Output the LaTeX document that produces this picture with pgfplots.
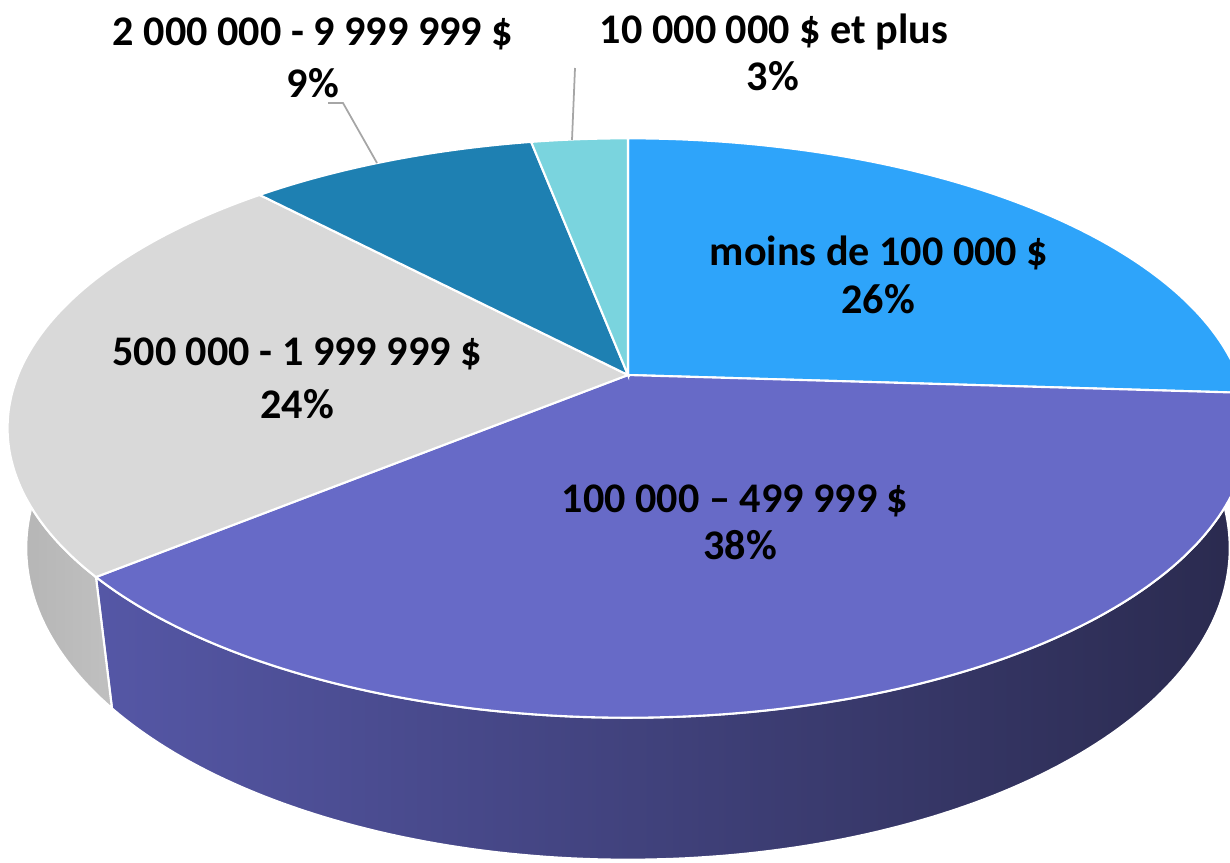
\documentclass[border=0pt]{standalone}
\usepackage{pgfplots}
\pgfplotsset{compat=1.18}
\usepackage{pgfplotstable}
\usepackage{fontspec}
\setmainfont{Carlito}

\definecolor{cA}{RGB}{46,164,250}
\definecolor{cB}{RGB}{103,106,199}
\definecolor{cC}{RGB}{217,217,217}
\definecolor{cD}{RGB}{30,128,178}
\definecolor{cE}{RGB}{122,212,222}
\definecolor{sBL}{RGB}{85,87,166}
\definecolor{sBR}{RGB}{42,42,78}
\definecolor{sCL}{RGB}{180,180,180}
\definecolor{sCR}{RGB}{192,192,192}
\definecolor{lead}{RGB}{166,166,166}

\newcommand\lbl{\fontsize{12}{14}\selectfont\bfseries}

% perspective rim of the pie: angle from 12 o'clock clockwise, drop = depth
\newcommand\arcpts[3]{%
  \pgfmathtruncatemacro\nn{max(2,ceil(abs(#2-#1)))}%
  \foreach \k in {0,...,\nn}{%
    \pgfmathsetmacro\myt{#1+(#2-#1)*(\k/\nn)}%
    \pgfmathsetmacro\myd{1+0.183*cos(\myt)}%
    \pgfmathsetmacro\px{628+(1-0.00026*#3)*610*sin(\myt)/\myd}%
    \pgfmathsetmacro\py{375-(280*cos(\myt)-#3)/\myd}%
    \xdef\acc{\acc -- (axis cs:\px,\py)}%
  }%
}

\pgfplotstableread{
pct
26
38
24
9
3
}\piedata

\begin{document}
\begin{tikzpicture}
\gdef\cum{0}
\foreach \i in {0,...,4}{%
  \pgfplotstablegetelem{\i}{pct}\of\piedata
  \let\myval\pgfplotsretval
  \pgfmathsetmacro\sA{\cum*3.6}%
  \pgfmathsetmacro\eA{(\cum+\myval)*3.6}%
  \xdef\acc{(axis cs:628,375)}%
  \arcpts{\sA}{\eA}{0}%
  \expandafter\xdef\csname top\i\endcsname{\acc -- cycle}%
  \pgfmathsetmacro\visA{max(\sA,90)}%
  \pgfmathsetmacro\visB{min(\eA,270)}%
  \pgfmathtruncatemacro\vis{\visB>\visA}%
  \ifnum\vis=1
    \pgfmathsetmacro\myd{1+0.183*cos(\visA)}%
    \pgfmathsetmacro\px{628+610*sin(\visA)/\myd}%
    \pgfmathsetmacro\py{375-280*cos(\visA)/\myd}%
    \xdef\acc{(axis cs:\px,\py)}%
    \arcpts{\visA}{\visB}{0}%
    \arcpts{\visB}{\visA}{116}%
    \expandafter\xdef\csname side\i\endcsname{\acc -- cycle}%
  \fi
  \pgfmathsetmacro\newcum{\cum+\myval}%
  \xdef\cum{\newcum}%
}
\begin{axis}[
  width=12.3cm, height=8.62cm, scale only axis,
  xmin=0, xmax=1230, ymin=0, ymax=862, y dir=reverse,
  hide axis, clip=true]
\coordinate (bl) at (axis cs:0,862);
\coordinate (tr) at (axis cs:1230,0);
% front sides
\edef\tmp{\noexpand\path[left color=sBL, right color=sBR, draw=white, line width=0.6pt] \csname side1\endcsname;}\tmp
\edef\tmp{\noexpand\path[left color=sCL, right color=sCR, draw=white, line width=0.6pt] \csname side2\endcsname;}\tmp
% top faces
\edef\tmp{\noexpand\fill[cA, draw=white, line width=0.6pt] \csname top0\endcsname;}\tmp
\edef\tmp{\noexpand\fill[cB, draw=white, line width=0.6pt] \csname top1\endcsname;}\tmp
\edef\tmp{\noexpand\fill[cC, draw=white, line width=0.6pt] \csname top2\endcsname;}\tmp
\edef\tmp{\noexpand\fill[cD, draw=white, line width=0.6pt] \csname top3\endcsname;}\tmp
\edef\tmp{\noexpand\fill[cE, draw=white, line width=0.6pt] \csname top4\endcsname;}\tmp
% leader lines
\draw[lead, line width=0.5pt] (axis cs:328,103) -- (axis cs:343,103) -- (axis cs:377,163);
\draw[lead, line width=0.5pt] (axis cs:575,68) -- (axis cs:572,140);
% labels
\node[anchor=base, font=\lbl] at (axis cs:879,265) {moins de 100 000 \$};
\node[anchor=base, font=\lbl] at (axis cs:878,313) {26\%};
\node[anchor=base, font=\lbl] at (axis cs:735,512) {100 000 -- 499 999 \$};
\node[anchor=base, font=\lbl] at (axis cs:740,559) {38\%};
\node[anchor=base, font=\lbl] at (axis cs:297,365) {500 000 - 1 999 999 \$};
\node[anchor=base, font=\lbl] at (axis cs:297,418) {24\%};
\node[anchor=base, font=\lbl] at (axis cs:313,45) {2 000 000 - 9 999 999 \$};
\node[anchor=base, font=\lbl] at (axis cs:313,97) {9\%};
\node[anchor=base, font=\lbl] at (axis cs:774,43) {10 000 000 \$ et plus};
\node[anchor=base, font=\lbl] at (axis cs:773,90) {3\%};
\end{axis}
\pgfresetboundingbox
\path (bl) rectangle (tr);
\end{tikzpicture}
\end{document}
